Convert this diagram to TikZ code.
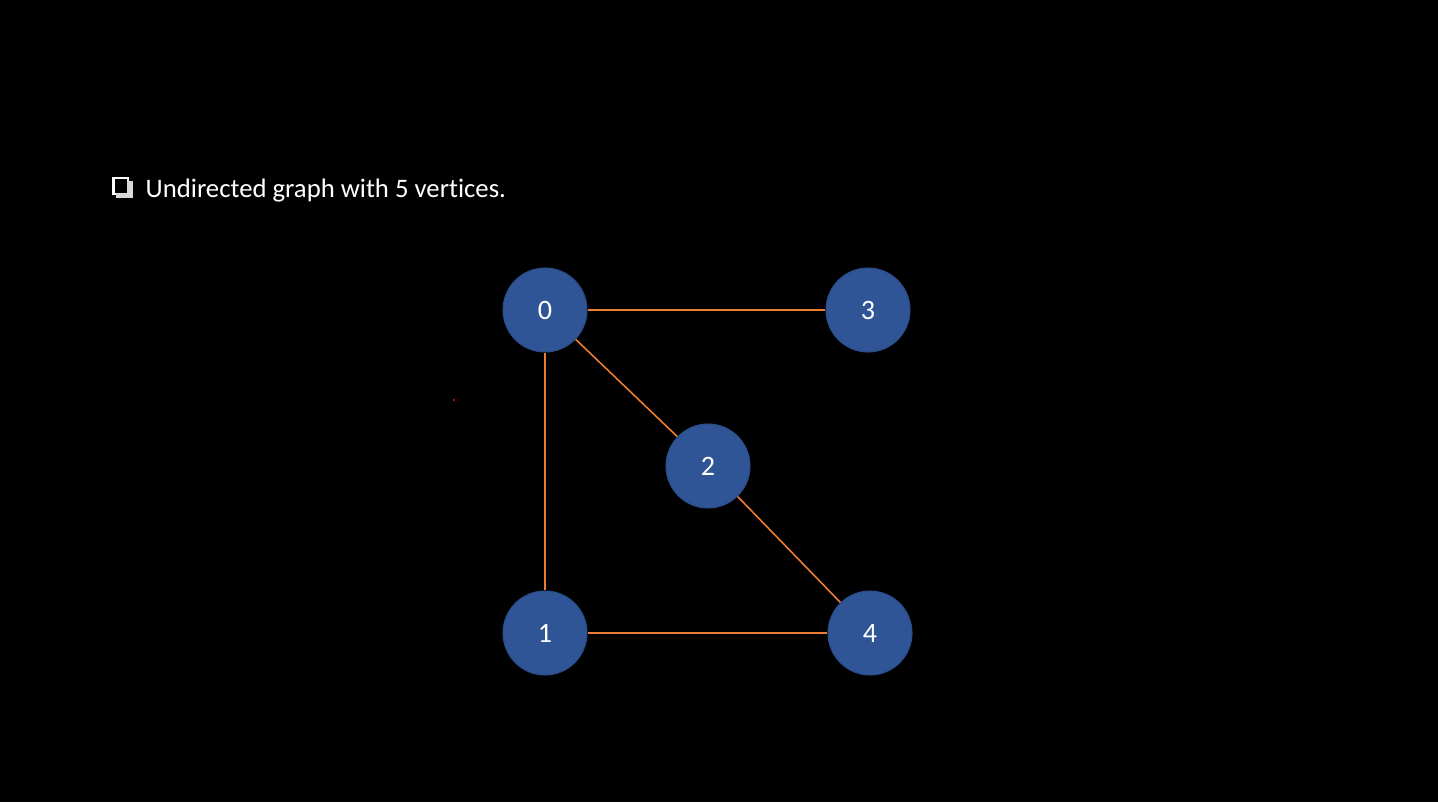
\documentclass[tikz,border=0pt]{standalone}
\usepackage{fontspec}
\setmainfont[RawFeature=-liga]{Carlito}
\definecolor{vblue}{HTML}{2F5597}
\definecolor{vedge}{HTML}{ED7D31}
\begin{document}
\begin{tikzpicture}[
	vertex/.style={circle,fill=vblue,draw=vblue!90!black,line width=0.3pt,minimum size=0.84cm,inner sep=0pt,text=white,font=\fontsize{8}{9}\selectfont},
	link/.style={vedge,line width=0.45pt}]
		\fill[black](0,0) rectangle (14.38,8.02);
		% title with box bullet
		\fill[white](1.12,6.07) rectangle (1.29,6.25);
		\fill[white!85!black](1.16,6.04) rectangle (1.33,6.21);
		\fill[black](1.15,6.09) rectangle (1.27,6.23);
		\node[anchor=base west,inner sep=0pt,text=white,font=\fontsize{7.6}{9}\selectfont] (title) at (1.45,6.04) {Undirected graph with 5 vertices.};
		% vertices
		\node[vertex] (v0) at (5.45,4.92) {0};
		\node[vertex] (v3) at (8.68,4.92) {3};
		\node[vertex] (v2) at (7.08,3.36) {2};
		\node[vertex] (v1) at (5.45,1.69) {1};
		\node[vertex] (v4) at (8.70,1.69) {4};
		% edges
		\draw[link](v0)--(v3);
		\draw[link](v0)--(v2);
		\draw[link](v0)--(v1);
		\draw[link](v2)--(v4);
		\draw[link](v1)--(v4);
		\fill[red](4.54,4.02) circle (0.012);
	    \end{tikzpicture}
\end{document}
